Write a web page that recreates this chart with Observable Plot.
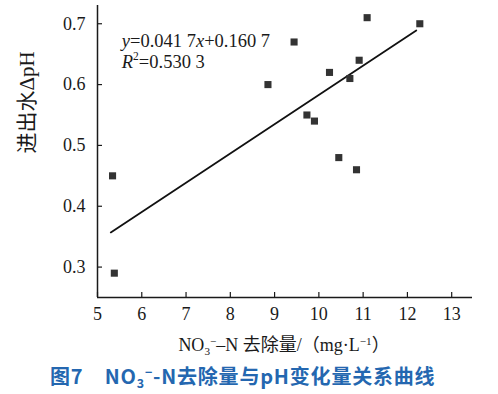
<!DOCTYPE html>
<html><head><meta charset="utf-8">
<script src="https://cdn.jsdelivr.net/npm/d3@7"></script>
<script src="https://cdn.jsdelivr.net/npm/@observablehq/plot@0.6"></script>
<style>
body{margin:0;background:#fff;width:498px;overflow:hidden;}
#chart svg{display:block;}
#xtitle{font-family:"Liberation Serif","Noto Sans CJK SC",serif;font-size:18px;color:#1a1a1a;height:30px;line-height:30px;padding-left:70px;text-align:center;white-space:nowrap;}
#xtitle sub,#xtitle sup,#caption sub,#caption sup{font-size:0.62em;line-height:0;position:relative;vertical-align:baseline;}
#xtitle sub,#caption sub{top:0.35em;}
#xtitle sup,#caption sup{top:-0.55em;}
#caption{font-family:"Noto Sans CJK SC",sans-serif;font-weight:bold;font-size:20px;letter-spacing:0.8px;color:#2467b0;height:32px;line-height:32px;padding-left:50px;white-space:nowrap;}
</style></head><body>
<div id="chart"></div>
<div id="xtitle">NO<sub>3</sub><sup>−</sup>–N 去除量/（mg·L<sup>−1</sup>）</div>
<div id="caption">图7&nbsp;&nbsp;&nbsp;&nbsp;NO<sub>3</sub><sup>−</sup>-N去除量与pH变化量关系曲线</div>
<script>
// NO3--N removal (mg/L)
const removal = [5.34, 5.38, 8.85, 9.44, 9.73, 9.90, 10.24, 10.45, 10.70, 10.85, 10.91, 11.09, 12.28];
// influent-effluent delta pH
const deltaPH = [0.45, 0.29, 0.60, 0.67, 0.55, 0.54, 0.62, 0.48, 0.61, 0.46, 0.64, 0.71, 0.70];
// fitted line as drawn
const fitX = [5.30, 12.20];
const fitY = [0.357, 0.689];
const xTicks = [5, 6, 7, 8, 9, 10, 11, 12, 13];
const yTicks = [0.3, 0.4, 0.5, 0.6, 0.7];
const yTitle = "进出水ΔpH";
const eqSlope = "0.041 7";
const eqIntercept = "0.160 7";
const eqR2 = "0.530 3";
const eqPos = {x: 5.56, y1: 0.6617, y2: 0.6272};

const points = removal.map((x, i) => ({x, y: deltaPH[i]}));
const fit = fitX.map((x, i) => ({x, y: fitY[i]}));

const plot = Plot.plot({
  width: 498,
  height: 330,
  marginLeft: 97,
  marginRight: 26,
  marginTop: 5,
  marginBottom: 33,
  style: {fontFamily: '"Liberation Serif", serif', fontSize: "18px", color: "#1a1a1a", background: "#fff"},
  x: {domain: [5, 13.47], ticks: xTicks, label: null},
  y: {domain: [0.25, 0.73], ticks: yTicks, label: null},
  marks: [
    Plot.axisX({ticks: xTicks, tickSize: -5, tickPadding: 15, tickFormat: d => String(d), fontSize: 18, label: null, strokeWidth: 1.2}),
    Plot.axisY({ticks: yTicks, tickSize: -5, tickPadding: 17, tickFormat: d3.format(".1f"), fontSize: 18, label: null, strokeWidth: 1.2}),
    Plot.ruleX([5], {stroke: "#1a1a1a", strokeWidth: 1.5}),
    Plot.ruleY([0.25], {stroke: "#1a1a1a", strokeWidth: 1.5}),
    Plot.line(fit, {x: "x", y: "y", stroke: "#111", strokeWidth: 1.8}),
    Plot.dot(points, {x: "x", y: "y", symbol: "square", r: 4, fill: "#333", stroke: "none"}),
    Plot.text([yTitle], {frameAnchor: "left", rotate: -90, dx: -70, dy: 2, fontSize: 21, fontFamily: '"Liberation Serif", "Noto Sans CJK SC", serif', fill: "#1a1a1a"})
  ]
});
document.getElementById("chart").appendChild(plot);

const sx = plot.scale("x"), sy = plot.scale("y");
const g = d3.select(plot).append("g")
  .attr("font-family", '"Liberation Serif", serif')
  .attr("font-size", 18.5)
  .attr("text-anchor", "start")
  .attr("fill", "#1a1a1a");
const t1 = g.append("text").attr("x", sx.apply(eqPos.x)).attr("y", sy.apply(eqPos.y1));
t1.append("tspan").attr("font-style", "italic").text("y");
t1.append("tspan").text("=" + eqSlope);
t1.append("tspan").attr("font-style", "italic").text("x");
t1.append("tspan").text("+" + eqIntercept);
const t2 = g.append("text").attr("x", sx.apply(eqPos.x)).attr("y", sy.apply(eqPos.y2));
t2.append("tspan").attr("font-style", "italic").text("R");
t2.append("tspan").attr("font-size", 11.5).attr("dy", -7.5).text("2");
t2.append("tspan").attr("dy", 7.5).text("=" + eqR2);
</script>
</body></html>
